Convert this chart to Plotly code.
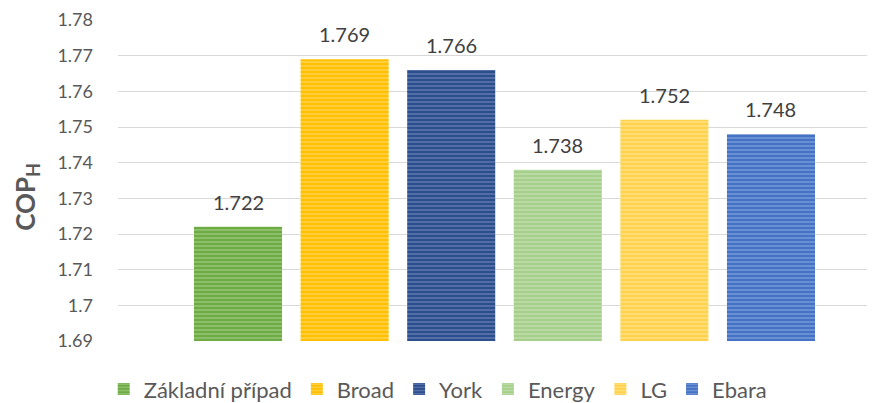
import plotly.graph_objects as go

categories = ["Základní případ", "Broad", "York", "Energy", "LG", "Ebara"]
values = [1.722, 1.769, 1.766, 1.738, 1.752, 1.748]
labels = ["1.722", "1.769", "1.766", "1.738", "1.752", "1.748"]
y_ticks = [1.69, 1.70, 1.71, 1.72, 1.73, 1.74, 1.75, 1.76, 1.77, 1.78]
y_ticktext = ["1.69", "1.7", "1.71", "1.72", "1.73", "1.74", "1.75", "1.76", "1.77", "1.78"]
y_title = "<b>COP<sub>H</sub></b>"

main_colors = ["#6EAB45", "#FFC000", "#2C4E8E", "#A5CF8A", "#FFD24D", "#4472C4"]
stripe_colors = ["#B9DDA0", "#FFE595", "#8A9DC8", "#D9ECCB", "#FFEDB0", "#A3BCE6"]

fig = go.Figure()
for i, (cat, v) in enumerate(zip(categories, values)):
    fig.add_trace(go.Bar(
        x=[cat], y=[v], name=cat, width=0.826,
        marker=dict(
            color=main_colors[i],
            line=dict(width=0),
            pattern=dict(shape="-", size=4, solidity=0.4,
                         fgcolor=stripe_colors[i], fillmode="overlay"),
        ),
    ))

annotations = []
for cat, v, lab in zip(categories, values, labels):
    annotations.append(dict(
        x=cat, y=v, xref="x", yref="y", text=lab, showarrow=False,
        yanchor="bottom", yshift=11,
        font=dict(size=20, color="#404040", family="Lato"),
    ))
annotations.append(dict(
    x=-0.122, y=0.45, xref="paper", yref="paper", text=y_title,
    showarrow=False, textangle=-90, xanchor="center", yanchor="middle",
    font=dict(size=26, color="#595959", family="Lato"),
))

# page body has an 8px margin, so the figure is 8px smaller and margins shifted
fig.update_layout(
    width=867, height=395,
    margin=dict(l=110, r=5, t=12, b=62, autoexpand=False),
    paper_bgcolor="white", plot_bgcolor="white",
    barmode="overlay",
    font=dict(family="Lato", color="#595959", size=18),
    showlegend=True,
    annotations=annotations,
    legend=dict(orientation="h", x=-0.019, xanchor="left", y=-0.15, yanchor="middle",
                font=dict(size=22, color="#595959"), itemwidth=30,
                traceorder="normal"),
    xaxis=dict(range=[-1.126, 5.929], showticklabels=False, showgrid=False,
               zeroline=False, showline=False, type="category"),
    yaxis=dict(range=[1.69, 1.78], tickvals=y_ticks, ticktext=y_ticktext,
               showgrid=True, gridcolor="#D9D9D9", gridwidth=1,
               zeroline=False, showline=False, ticklabelstandoff=24,
               tickfont=dict(size=18, color="#595959")),
)

fig.write_html("out.html")
